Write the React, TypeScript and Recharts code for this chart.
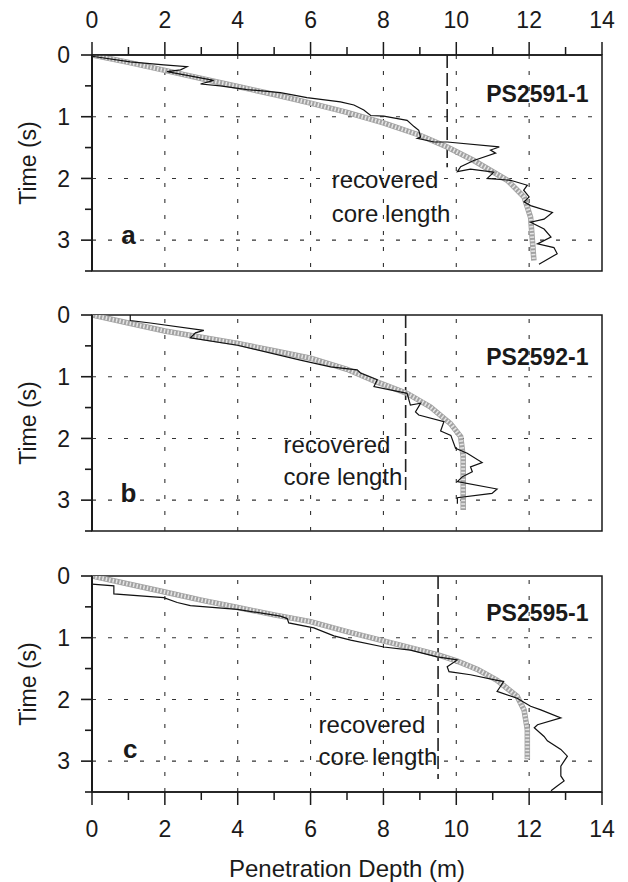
import React from 'react';
import { LineChart, Line, XAxis, YAxis, ReferenceLine, ReferenceArea } from 'recharts';

const FONT = '"Liberation Sans", Arial, Helvetica, sans-serif';
const INK = '#1a1a1a';

const depthTicks = [0, 1, 2, 3, 4, 5, 6, 7, 8, 9, 10, 11, 12, 13, 14];
const timeTicks = [0, 0.5, 1, 1.5, 2, 2.5, 3, 3.5];
const depthGrid = [2, 4, 6, 8, 10, 12];
const timeGrid = [1, 2, 3];

// PS2591-1
const fitDepthA = [0, 1, 2, 3, 4, 5, 6, 7, 8, 9, 9.75, 10.48, 11.4, 11.86, 12.04, 12.09, 12.13];
const fitTimeA = [0, 0.12, 0.25, 0.38, 0.51, 0.64, 0.78, 0.93, 1.1, 1.3, 1.49, 1.71, 2.03, 2.3, 2.63, 3.01, 3.33];
const measDepthA = [0, 1.05, 1.97, 2.61, 2.43, 2.06, 2.61, 3.34, 2.98, 3.52, 4.26, 5.17, 5.54, 5.9, 6.82, 7.19, 7.46, 7.65, 8.01, 8.65, 8.84, 8.97, 9.02, 8.93, 9.39, 9.75, 11.18, 10.94, 11.08, 10.48, 10.12, 10.03, 10.39, 11.03, 10.85, 11.49, 11.95, 11.85, 12.0, 11.86, 12.04, 12.64, 12.41, 12.04, 12.41, 12.6, 12.23, 12.68, 12.77, 12.27];
const measTimeA = [0.02, 0.11, 0.16, 0.19, 0.24, 0.27, 0.33, 0.41, 0.47, 0.5, 0.56, 0.61, 0.65, 0.69, 0.76, 0.81, 0.89, 0.98, 0.99, 1.06, 1.16, 1.22, 1.33, 1.35, 1.41, 1.41, 1.49, 1.54, 1.59, 1.71, 1.81, 1.89, 1.85, 1.9, 2.0, 2.03, 2.11, 2.19, 2.3, 2.38, 2.44, 2.55, 2.66, 2.71, 2.82, 2.95, 3.06, 3.12, 3.22, 3.39];

// PS2592-1
const fitDepthB = [0, 1, 2, 3, 4, 5, 6, 7, 7.8, 8.65, 9.29, 9.84, 10.12, 10.19, 10.19, 10.19];
const fitTimeB = [0, 0.13, 0.26, 0.36, 0.46, 0.58, 0.7, 0.88, 1.08, 1.27, 1.49, 1.76, 1.97, 2.3, 2.67, 3.16];
const measDepthB = [1.05, 1.05, 1.6, 3.07, 2.84, 2.7, 4.0, 5.72, 6.55, 7.28, 7.37, 7.83, 7.74, 8.65, 8.74, 9.02, 8.88, 8.97, 9.66, 9.57, 9.85, 9.98, 10.3, 10.71, 10.39, 10.44, 10.17, 10.03, 11.12, 10.98, 10.03, 10.03];
const measTimeB = [0, 0.09, 0.13, 0.25, 0.29, 0.37, 0.49, 0.73, 0.84, 0.89, 0.94, 1.05, 1.16, 1.27, 1.46, 1.43, 1.57, 1.62, 1.73, 1.88, 1.95, 2.16, 2.24, 2.39, 2.46, 2.54, 2.62, 2.7, 2.82, 2.89, 2.96, 3.06];

// PS2595-1
const fitDepthC = [0, 1, 2, 3, 4, 5, 6, 7, 8, 9, 9.5, 10.03, 10.6, 11.12, 11.67, 11.86, 11.95, 11.95];
const fitTimeC = [0, 0.13, 0.26, 0.39, 0.51, 0.63, 0.74, 0.9, 1.05, 1.2, 1.28, 1.38, 1.52, 1.69, 1.95, 2.17, 2.49, 2.97];
const measDepthC = [0, 0.6, 0.6, 1.97, 2.34, 2.7, 3.99, 5.17, 5.36, 5.4, 6.09, 6.64, 7.1, 8.01, 8.74, 9.48, 10.03, 9.75, 9.8, 10.39, 11.12, 11.3, 11.21, 11.12, 11.67, 12.04, 12.32, 12.87, 12.23, 12.14, 12.41, 12.5, 12.87, 13.05, 12.87, 12.87, 12.96, 12.78, 12.6];
const measTimeC = [0.13, 0.16, 0.29, 0.35, 0.43, 0.48, 0.54, 0.65, 0.69, 0.76, 0.84, 0.97, 1.04, 1.15, 1.2, 1.31, 1.36, 1.47, 1.55, 1.6, 1.69, 1.71, 1.79, 1.87, 1.98, 2.11, 2.17, 2.3, 2.41, 2.46, 2.6, 2.67, 2.81, 2.92, 3.08, 3.24, 3.32, 3.4, 3.48];

const stations = ['PS2591-1', 'PS2592-1', 'PS2595-1'];
const letters = ['a', 'b', 'c'];
const coreDepth = [9.75, 8.61, 9.5];
const coreEnd = [1.82, 2.84, 3.29];

const W = 628;
const LEFT = 92;
const RIGHT = 602;
const PLOT_H = 216;

const toPts = (ds: number[], ts: number[]) => ds.map((d, i) => ({ d, t: ts[i] }));
const px = (d: number) => LEFT + (d * (RIGHT - LEFT)) / 14;

const tickText = { fontFamily: FONT, fontSize: 23, fill: INK };

function TimeTick(props: any) {
  const { x, y, payload } = props;
  const v = payload.value;
  const major = v % 1 === 0;
  return (
    <g>
      <line x1={x - (major ? 11 : 7)} x2={x} y1={y} y2={y} stroke={INK} strokeWidth={1.6} />
      {major && (
        <text x={x - 22} y={y} dy="0.36em" textAnchor="end" style={tickText}>
          {v}
        </text>
      )}
    </g>
  );
}

function TopTick(props: any) {
  const { x, y, payload } = props;
  const v = payload.value;
  const major = v % 2 === 0;
  return (
    <g>
      <line x1={x} x2={x} y1={y} y2={y - (major ? 13 : 8)} stroke={INK} strokeWidth={1.5} />
      {major && (
        <text x={x} y={y - 35} dy="0.36em" textAnchor="middle" style={tickText}>
          {v}
        </text>
      )}
    </g>
  );
}

function BottomTick(props: any) {
  const { x, y, payload } = props;
  const v = payload.value;
  const major = v % 2 === 0;
  return (
    <g>
      <line x1={x} x2={x} y1={y} y2={y + (major ? 13 : 8)} stroke={INK} strokeWidth={1.5} />
      {major && (
        <text x={x} y={y + 37} dy="0.36em" textAnchor="middle" style={tickText}>
          {v}
        </text>
      )}
    </g>
  );
}

const panels = [
  { fit: toPts(fitDepthA, fitTimeA), meas: toPts(measDepthA, measTimeA), chartTop: 0, chartH: 290, mTop: 0, axis: 'top', plotTop: 55, textLeft: 6.58, recT: 2.03, coreT: 2.57, letterD: 1.0, letterT: 2.92, stationT: 0.63 },
  { fit: toPts(fitDepthB, fitTimeB), meas: toPts(measDepthB, measTimeB), chartTop: 300, chartH: 250, mTop: 15, axis: 'none', plotTop: 315, textLeft: 5.26, recT: 2.11, coreT: 2.63, letterD: 1.0, letterT: 2.89, stationT: 0.68 },
  { fit: toPts(fitDepthC, fitTimeC), meas: toPts(measDepthC, measTimeC), chartTop: 560, chartH: 322, mTop: 16, axis: 'bottom', plotTop: 576, textLeft: 6.22, recT: 2.41, coreT: 2.94, letterD: 1.05, letterT: 2.81, stationT: 0.6 },
];

const txt: React.CSSProperties = {
  position: 'absolute',
  fontFamily: FONT,
  fontSize: 24,
  lineHeight: 1,
  color: INK,
  whiteSpace: 'nowrap',
};

function Panel({ p, i }: { p: any; i: number }) {
  const axisH = p.axis === 'top' ? 55 : p.axis === 'bottom' ? 60 : 0;
  const mBottom = p.chartH - p.mTop - PLOT_H - axisH;
  const yOf = (t: number) => p.plotTop - p.chartTop + (t * PLOT_H) / 3.5;
  return (
    <div style={{ position: 'absolute', left: 0, top: p.chartTop }}>
      <LineChart
        width={W}
        height={p.chartH}
        margin={{ top: p.mTop, right: W - RIGHT, bottom: mBottom, left: 0 }}
      >
        <XAxis
          type="number"
          dataKey="d"
          domain={[0, 14]}
          ticks={depthTicks}
          interval={0}
          allowDataOverflow
          hide={p.axis === 'none'}
          orientation={p.axis === 'top' ? 'top' : 'bottom'}
          height={axisH || 30}
          axisLine={{ stroke: INK, strokeWidth: 1.6 }}
          tickLine={false}
          tickSize={0}
          tickMargin={0}
          tick={p.axis === 'top' ? TopTick : BottomTick}
        />
        <YAxis
          type="number"
          dataKey="t"
          domain={[0, 3.5]}
          reversed
          ticks={timeTicks}
          interval={0}
          allowDataOverflow
          width={LEFT}
          axisLine={{ stroke: INK, strokeWidth: 2 }}
          tickLine={false}
          tickSize={0}
          tickMargin={0}
          tick={TimeTick}
        />
        <ReferenceArea x1={0} x2={14} y1={0} y2={3.5} fill="none" stroke={INK} strokeWidth={1.5} ifOverflow="visible" />
        {depthGrid.map((v) => (
          <ReferenceLine key={`gx${v}`} x={v} stroke="#333" strokeWidth={1.1} strokeDasharray="4 12" />
        ))}
        {timeGrid.map((v) => (
          <ReferenceLine key={`gy${v}`} y={v} stroke="#333" strokeWidth={1.1} strokeDasharray="4 12" />
        ))}
        <ReferenceLine
          segment={[{ x: coreDepth[i], y: 0 }, { x: coreDepth[i], y: coreEnd[i] }]}
          stroke="#222"
          strokeWidth={1.6}
          strokeDasharray="13 5"
        />
        <Line
          data={p.fit}
          dataKey="t"
          type="linear"
          stroke="#a2a2a2"
          strokeWidth={5.5}
          dot={false}
          activeDot={false}
          isAnimationActive={false}
        />
        <Line
          data={p.fit}
          dataKey="t"
          type="linear"
          stroke="#e6e6e6"
          strokeWidth={4}
          strokeDasharray="1.5 2"
          dot={false}
          activeDot={false}
          isAnimationActive={false}
        />
        <Line
          data={p.meas}
          dataKey="t"
          type="linear"
          stroke="#111"
          strokeWidth={1.2}
          dot={false}
          activeDot={false}
          isAnimationActive={false}
        />
      </LineChart>
      <div style={{ ...txt, left: 28, top: yOf(1.75), fontSize: 23, transform: 'translate(-50%, -50%) rotate(-90deg)' }}>
        Time (s)
      </div>
      <div style={{ ...txt, left: px(p.textLeft), top: yOf(p.recT), transform: 'translateY(-50%)' }}>
        recovered
      </div>
      <div style={{ ...txt, left: px(p.textLeft), top: yOf(p.coreT), transform: 'translateY(-50%)' }}>
        core length
      </div>
      <div style={{ ...txt, left: px(p.letterD), top: yOf(p.letterT), fontWeight: 'bold', fontSize: 26, transform: 'translate(-50%, -50%)' }}>
        {letters[i]}
      </div>
      <div style={{ ...txt, right: W - px(13.63), top: yOf(p.stationT), fontWeight: 'bold', fontSize: 23, transform: 'translateY(-50%)' }}>
        {stations[i]}
      </div>
    </div>
  );
}

export default function App() {
  return (
    <div style={{ position: 'absolute', left: 0, top: 0, width: W, height: 882, background: '#fff' }}>
      {panels.map((p, i) => (
        <Panel key={i} p={p} i={i} />
      ))}
      <div style={{ ...txt, left: (LEFT + RIGHT) / 2, top: 869, transform: 'translate(-50%, -50%)' }}>
        Penetration Depth (m)
      </div>
    </div>
  );
}
